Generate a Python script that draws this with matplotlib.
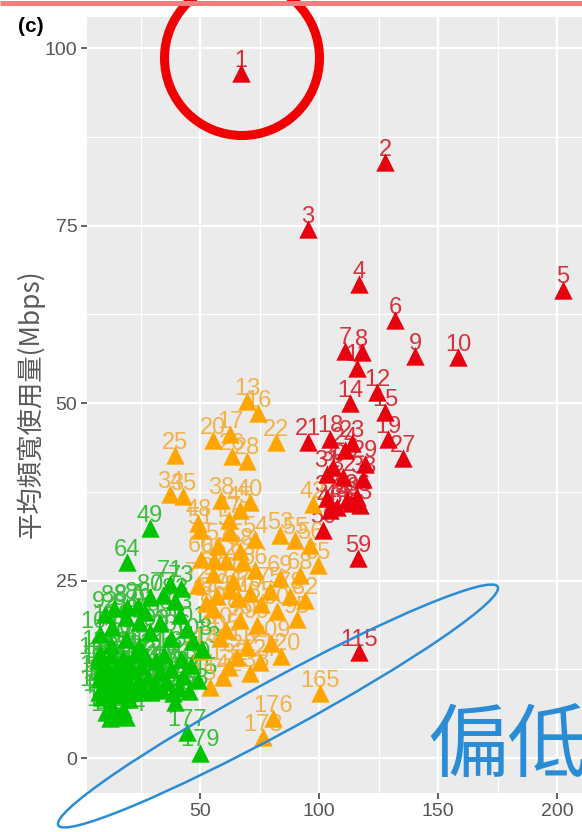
import numpy as np
import matplotlib.pyplot as plt
from matplotlib.patches import Ellipse

plt.rcParams['font.family'] = ['Liberation Sans', 'DejaVu Sans']

# points listed by rank (label = rank of bandwidth use, 1 = highest)
x_vals = [67.2, 127.7, 95.4, 116.8, 202.5, 132.0, 110.9, 118.0, 140.3, 158.4,      # 1-10
          116.0, 124.4, 69.7, 113.0, 127.7, 74.4, 62.6, 104.6, 129.0, 55.5,        # 11-20
          95.4, 82.0, 113.9, 111.0, 39.5, 63.4, 135.3, 69.7, 119.3, 105.9,         # 21-30
          103.4, 110.1, 118.5, 37.4, 42.9, 116.0, 103.4, 59.0, 111.8, 71.0,        # 31-40
          113.4, 97.5, 117.2, 107.6, 66.8, 104.6, 62.0, 49.2, 29.0, 101.7,         # 41-50
          50.0, 62.6, 83.6, 73.0, 90.0, 96.2, 57.5, 66.8, 116.4, 50.5,             # 51-60
          56.0, 61.0, 68.0, 19.3, 99.6, 73.0, 55.5, 92.0, 83.6, 63.9,              # 61-70
          37.4, 49.2, 42.0, 62.6, 79.4, 71.0, 34.5, 88.0, 57.0, 29.0,              # 71-80
          66.0, 94.0, 39.5, 52.5, 75.5, 24.0, 19.3, 14.0, 55.5, 82.4,              # 81-90
          27.0, 10.0, 41.6, 19.0, 90.8, 66.8, 24.5, 33.0, 74.0, 13.0,              # 91-100
          44.5, 61.0, 29.0, 8.0, 58.4, 38.0, 19.0, 47.0, 80.0, 12.5,               # 101-110
          24.5, 69.7, 50.8, 50.0, 116.8, 8.0, 22.5, 35.0, 12.5, 84.0,              # 111-120
          27.5, 65.5, 17.5, 42.0, 7.0, 31.5, 75.2, 20.0, 10.5, 46.0,               # 121-130
          25.0, 62.0, 15.0, 38.0, 8.5, 22.0, 33.0, 71.0, 13.0, 18.5,               # 131-140
          43.0, 59.7, 28.0, 7.5, 49.0, 24.5, 11.0, 36.0, 16.5, 31.0,               # 141-150
          20.5, 54.2, 9.5, 41.0, 14.0, 26.5, 34.0, 45.5, 18.0, 7.5,                # 151-160
          22.5, 29.5, 11.5, 38.5, 100.4, 15.5, 9.0, 20.0, 39.5, 12.5,              # 161-170
          17.5, 10.5, 14.5, 19.0, 12.0, 80.7, 44.5, 76.5, 50.0]                    # 171-179

y_vals = [96.5, 84.0, 74.5, 66.8, 66.0, 61.7, 57.4, 57.2, 56.6, 56.5,
          55.0, 51.6, 50.3, 50.0, 48.7, 48.6, 45.6, 45.0, 44.9, 44.8,
          44.6, 44.5, 44.4, 43.4, 42.7, 42.5, 42.3, 41.9, 41.5, 41.0,
          40.1, 39.6, 39.3, 37.2, 36.9, 36.8, 36.6, 36.4, 36.3, 36.1,
          36.0, 35.8, 35.6, 35.4, 35.0, 34.9, 33.6, 33.2, 32.4, 32.2,
          32.1, 31.9, 31.4, 30.9, 30.7, 30.0, 29.9, 29.2, 28.2, 28.1,
          27.9, 27.8, 27.7, 27.6, 27.2, 26.5, 25.9, 25.8, 25.4, 25.0,
          24.6, 24.4, 24.0, 23.7, 23.6, 23.2, 23.0, 22.9, 22.8, 22.7,
          22.5, 22.3, 22.1, 21.9, 21.7, 21.5, 21.3, 21.1, 21.0, 20.8,
          20.6, 20.3, 20.2, 19.9, 19.6, 19.4, 19.2, 19.0, 18.8, 18.5,
          18.2, 18.0, 17.8, 17.5, 17.0, 17.0, 16.8, 16.5, 16.2, 16.0,
          15.8, 15.6, 15.4, 15.1, 14.9, 14.8, 14.7, 14.6, 14.5, 14.4,
          14.3, 14.2, 14.1, 14.0, 13.8, 13.7, 13.5, 13.4, 13.2, 13.1,
          13.0, 12.9, 12.8, 12.6, 12.4, 12.3, 12.1, 12.0, 11.9, 11.7,
          11.6, 11.4, 11.3, 11.2, 11.0, 10.9, 10.8, 10.7, 10.5, 10.4,
          10.2, 10.1, 10.0, 9.9, 9.8, 9.7, 9.6, 9.5, 9.4, 9.35,
          9.3, 9.28, 9.25, 9.22, 9.2, 8.9, 8.6, 8.3, 7.9, 7.6,
          7.0, 6.5, 6.0, 5.8, 5.7, 5.6, 3.7, 3.0, 0.8]

# r = high, o = middle, g = low
groups = list("rrrrrrrrrr" "rrorroorro" "rorroororr" "rrroorroro" "rorroroogr"
              "ooooooooro" "ooogoooooo" "gogooogoog" "oogoogggoo" "ggggooggog"
              "goggogggog" "gogorggggo" "goggggoggg" "gogggggogg" "gogggggggg"
              "gogggggggg" "ggggoggggg" "gggggogog")
labels = list(range(1, len(x_vals) + 1))

mark_col = {'r': '#E8000E', 'o': '#FFA500', 'g': '#00C400'}
text_col = {'r': '#D8323C', 'o': '#F2B24A', 'g': '#3CBE3C'}

fig = plt.figure(figsize=(5.82, 8.32), dpi=100)
ax = fig.add_axes([87/582, 39/832, 495/582, 776/832])
ax.set_facecolor('#EBEBEB')
for s in ax.spines.values():
    s.set_visible(False)

for xv, yv, g, lab in zip(x_vals, y_vals, groups, labels):
    ax.annotate(str(lab), (xv, yv), xytext=(0, 4.5), textcoords='offset points',
                ha='center', va='baseline', fontsize=17, color=text_col[g], zorder=2)
for g in ['o', 'g', 'r']:
    xs = [a for a, gg in zip(x_vals, groups) if gg == g]
    ys = [b for b, gg in zip(y_vals, groups) if gg == g]
    ax.scatter(xs, ys, marker='^', s=175, color=mark_col[g], linewidths=0, zorder=3)

ax.set_xlim(2.5, 210.5)
ax.set_ylim(-4.9, 104.4)
ax.set_xticks([50, 100, 150, 200])
ax.set_xticks([25, 75, 125, 175], minor=True)
ax.set_yticks([0, 25, 50, 75, 100])
ax.set_yticks([12.5, 37.5, 62.5, 87.5], minor=True)
ax.grid(which='major', color='white', lw=1.7)
ax.grid(which='minor', color='white', lw=0.8)
ax.set_axisbelow(True)
ax.tick_params(which='major', length=4, width=1.3, color='#555555',
               labelsize=14, labelcolor='#555555', pad=3)
ax.tick_params(which='minor', length=0)

fig.text(30/582, 1 - 404/832, '平均頻寬使用量(Mbps)', rotation=90, ha='center', va='center',
         fontsize=19, color='#5A5A5A', family=['Noto Sans CJK TC', 'DejaVu Sans'])
fig.text(18/582, 1 - 17/832, '(c)', ha='left', va='top', fontsize=15,
         fontweight='bold', family=['Liberation Sans', 'DejaVu Sans'])

# hand-drawn marks on top of the chart, in pixel coordinates
ov = fig.add_axes([0, 0, 1, 1])
ov.set_xlim(0, 582)
ov.set_ylim(832, 0)
ov.axis('off')
ov.patch.set_alpha(0)
ov.plot([0, 582], [2.5, 2.5], color='#F08080', lw=3.6, solid_capstyle='butt')
ov.add_patch(Ellipse((242, 58), 155, 155, fill=False, edgecolor='#F00000', lw=6.5))
ov.add_patch(Ellipse((278, 706), 500, 52, angle=-28.5, fill=False, edgecolor='#2B8CD6', lw=1.8))
ov.text(427, 748, '偏低', ha='left', va='center', fontsize=58, color='#2B8CD6',
        family=['Noto Sans CJK TC', 'DejaVu Sans'])

fig.savefig('out.png', dpi=100)
